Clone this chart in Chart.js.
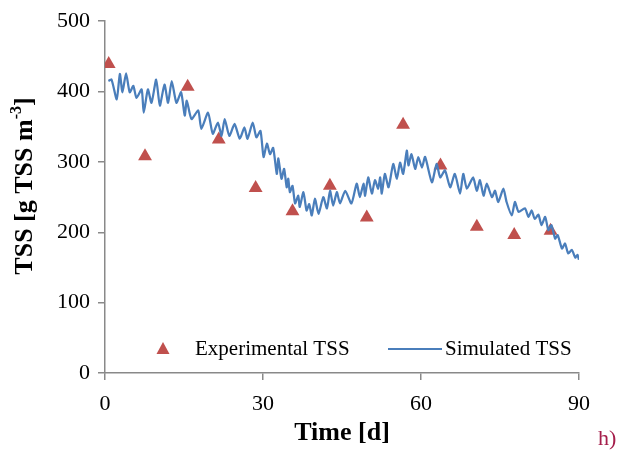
<!DOCTYPE html>
<html>
<head>
<meta charset="utf-8">
<script src="https://cdn.jsdelivr.net/npm/chart.js@4.4.0/dist/chart.umd.min.js"></script>
<style>
  body { margin: 0; background: #fff; }
  #wrap { width: 629px; height: 450px; }
</style>
</head>
<body>
<div id="wrap"><canvas id="tss-chart" width="629" height="450"></canvas></div>
<script>
// Mesures expérimentales (jours, g TSS m-3)
var expDays = [0.7, 7.6, 15.7, 21.6, 28.6, 35.6, 42.7, 49.7, 56.6, 63.7, 70.6, 77.7, 84.6];
var expTss = [439, 308, 407, 332, 263, 230, 266, 221, 353, 295, 208, 196, 202];

// Courbe simulée
var simDays = [0.65, 1.24, 2.23, 2.82, 3.31, 4.0, 4.69, 5.38, 5.97, 6.96,
  7.35, 8.14, 8.83, 9.72, 10.41, 11.29, 11.98, 12.67, 13.56, 14.45,
  15.14, 15.53, 16.42, 17.7, 18.29, 19.57, 20.46, 21.44, 22.13, 22.72,
  23.61, 24.6, 25.58, 26.47, 27.06, 28.05, 28.74, 29.52, 30.11, 30.74,
  31.33, 31.93, 32.62, 32.92, 33.51, 34.01, 34.5, 34.8, 35.1, 35.6,
  36.09, 36.69, 36.98, 37.68, 38.27, 38.77, 39.26, 39.86, 40.55, 41.44,
  42.14, 42.73, 43.33, 44.02, 44.62, 45.61, 46.8, 47.79, 48.39, 49.08,
  49.38, 49.97, 50.67, 51.26, 51.86, 52.25, 52.55, 53.14, 53.84, 54.73,
  55.42, 56.02, 56.61, 57.31, 57.61, 58.2, 58.89, 59.49, 60.18, 60.78,
  62.07, 62.96, 63.65, 64.55, 65.54, 66.43, 67.42, 68.02, 68.71, 69.9,
  70.59, 71.19, 71.88, 72.48, 73.47, 74.07, 74.66, 75.65, 76.25, 77.24,
  77.83, 78.53, 79.72, 80.41, 81.01, 81.6, 82.29, 82.89, 83.58, 84.18,
  84.77, 85.47, 85.96, 86.76, 87.35, 87.95, 88.64, 89.3, 89.7, 90.0];
var simTss = [415, 417, 389, 425, 399, 426, 399, 408, 391, 403,
  370, 403, 384, 417, 380, 410, 384, 415, 384, 399,
  366, 387, 361, 373, 347, 370, 340, 356, 337, 361,
  337, 354, 333, 349, 333, 356, 335, 344, 307, 326,
  311, 320, 283, 305, 276, 290, 264, 276, 257, 266,
  241, 252, 236, 257, 231, 240, 224, 248, 226, 250,
  234, 259, 238, 257, 241, 259, 241, 269, 250, 269,
  252, 278, 255, 274, 262, 278, 255, 283, 264, 297,
  276, 299, 283, 316, 295, 311, 290, 307, 292, 307,
  271, 297, 278, 288, 264, 283, 255, 283, 262, 278,
  259, 274, 252, 269, 250, 259, 243, 262, 243, 224,
  243, 229, 234, 222, 231, 219, 225, 210, 222, 203,
  210, 191, 196, 177, 184, 170, 175, 164, 168, 161];

var expLabel = 'Experimental TSS';
var simLabel = 'Simulated TSS';

var RED = '#C0504D';
var BLUE = '#4A7EBB';
var AXIS = '#898989';
var SERIF = '"Liberation Serif", "Times New Roman", serif';

function toPoints(xs, ys) {
  var pts = [];
  for (var i = 0; i < xs.length; i++) {
    pts.push({ x: xs[i], y: ys[i] });
  }
  return pts;
}

// Titre de l'axe Y avec exposant
var yTitlePlugin = {
  id: 'yTitle',
  afterDraw: function(chart) {
    var ctx = chart.ctx;
    var big = 'bold 26px ' + SERIF;
    var small = 'bold 16px ' + SERIF;
    ctx.save();
    ctx.translate(25, 186);
    ctx.rotate(-Math.PI / 2);
    ctx.fillStyle = '#000';
    ctx.textBaseline = 'middle';
    ctx.textAlign = 'left';
    ctx.font = big;
    var w1 = ctx.measureText('TSS [g TSS m').width;
    var w3 = ctx.measureText(']').width;
    ctx.font = small;
    var w2 = ctx.measureText('-3').width;
    var x = -(w1 + w2 + w3) / 2;
    ctx.font = big;
    ctx.fillText('TSS [g TSS m', x, 0);
    x += w1;
    ctx.font = small;
    ctx.fillText('-3', x, -8);
    x += w2;
    ctx.font = big;
    ctx.fillText(']', x, 0);
    ctx.restore();
  }
};

// Légende dans la zone du graphique + repère "h)"
var legendPlugin = {
  id: 'insideLegend',
  afterDraw: function(chart) {
    var ctx = chart.ctx;
    var y = 349;
    ctx.save();
    ctx.fillStyle = RED;
    ctx.beginPath();
    ctx.moveTo(163, y - 7);
    ctx.lineTo(169.5, y + 5);
    ctx.lineTo(156.5, y + 5);
    ctx.closePath();
    ctx.fill();

    ctx.strokeStyle = BLUE;
    ctx.lineWidth = 2;
    ctx.beginPath();
    ctx.moveTo(388, y);
    ctx.lineTo(442, y);
    ctx.stroke();

    ctx.fillStyle = '#000';
    ctx.font = '21px ' + SERIF;
    ctx.textBaseline = 'middle';
    ctx.textAlign = 'left';
    ctx.fillText(expLabel, 195, y);
    ctx.fillText(simLabel, 445, y);

    ctx.fillStyle = '#A51E4B';
    ctx.font = '22px ' + SERIF;
    ctx.fillText('h)', 598, 439);
    ctx.restore();
  }
};

window.addEventListener('load', function() {
  var ctx = document.getElementById('tss-chart').getContext('2d');
  new Chart(ctx, {
    type: 'scatter',
    data: {
      datasets: [{
        label: simLabel,
        data: toPoints(simDays, simTss),
        showLine: true,
        borderColor: BLUE,
        borderWidth: 2.25,
        tension: 0.2,
        pointRadius: 0,
        order: 0
      }, {
        label: expLabel,
        data: toPoints(expDays, expTss),
        pointStyle: 'triangle',
        pointRadius: 8,
        backgroundColor: RED,
        borderColor: RED,
        borderWidth: 0,
        order: 1
      }]
    },
    options: {
      responsive: false,
      animation: false,
      devicePixelRatio: 1,
      layout: { padding: { left: 0, top: 20, right: 50, bottom: 0 } },
      plugins: {
        legend: { display: false },
        tooltip: { enabled: false }
      },
      scales: {
        x: {
          type: 'linear',
          min: 0,
          max: 90,
          ticks: { stepSize: 30, color: '#000', font: { family: SERIF, size: 22 }, padding: 11 },
          grid: { drawOnChartArea: false, drawTicks: true, tickLength: 7, color: AXIS, lineWidth: 1.5 },
          border: { color: AXIS, width: 1.5 },
          title: {
            display: true,
            text: 'Time [d]',
            color: '#000',
            font: { family: SERIF, size: 26, weight: 'bold' },
            padding: { top: 0, bottom: 1 }
          },
          afterFit: function(scale) { scale.height = 77; }
        },
        y: {
          min: 0,
          max: 500,
          ticks: { stepSize: 100, color: '#000', font: { family: SERIF, size: 22 }, padding: 8 },
          grid: { drawOnChartArea: false, drawTicks: true, tickLength: 7, color: AXIS, lineWidth: 1.5 },
          border: { color: AXIS, width: 1.5 },
          afterFit: function(scale) { scale.width = 105; }
        }
      }
    },
    plugins: [yTitlePlugin, legendPlugin]
  });
});
</script>
</body>
</html>
